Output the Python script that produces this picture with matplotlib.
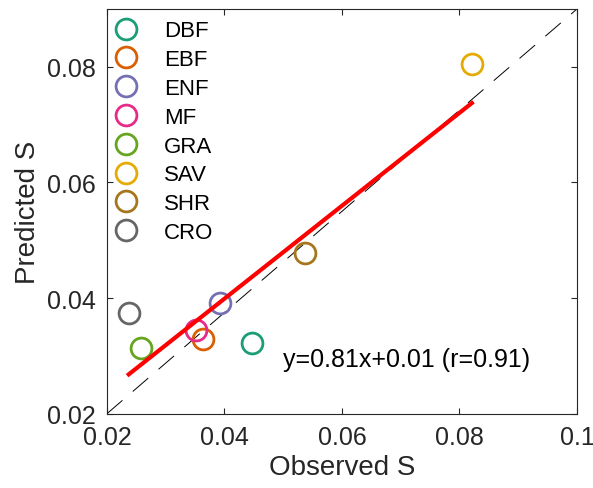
import numpy as np
import matplotlib
matplotlib.use("Agg")
import matplotlib.pyplot as plt

plt.rcParams["font.family"] = ["Liberation Sans", "DejaVu Sans"]

# 植被类型与观测/预测值
types = ["DBF", "EBF", "ENF", "MF", "GRA", "SAV", "SHR", "CRO"]
observed = [0.0446, 0.0364, 0.0392, 0.0351, 0.0258, 0.0821, 0.0537, 0.0237]
predicted = [0.0322, 0.0329, 0.0392, 0.0344, 0.0313, 0.0805, 0.0478, 0.0374]
colors = ["#1b9e77", "#d95f02", "#7570b3", "#e7298a",
          "#66a61e", "#e6ab02", "#a6761d", "#666666"]

# 参考虚线（坐标轴对角线）
ref_x = [0.02, 0.1]
ref_y = [0.02, 0.09]

fig = plt.figure(figsize=(5.93, 4.89), dpi=100)
ax = fig.add_axes([0.1804, 0.152, 0.7926, 0.8276])

ax.plot(ref_x, ref_y, color="black", lw=0.7, linestyle=(0, (21, 14)))

# 散点
for t, xo, yp, c in zip(types, observed, predicted, colors):
    ax.plot(xo, yp, "o", mfc="none", mec=c, ms=15, mew=2, label=t)

# 拟合线
k, b = np.polyfit(observed, predicted, 1)
xs = np.array([min(observed), max(observed)])
ax.plot(xs, k * xs + b, color="red", lw=3)

ax.text(0.0499, 0.0295, "y=0.81x+0.01 (r=0.91)", fontsize=18,
        va="center", ha="left", color="black")

ax.set_xlim(0.02, 0.1)
ax.set_ylim(0.02, 0.09)
ax.set_xticks([0.02, 0.04, 0.06, 0.08, 0.1])
ax.set_xticklabels(["0.02", "0.04", "0.06", "0.08", "0.1"])
ax.set_yticks([0.02, 0.04, 0.06, 0.08])
ax.set_yticklabels(["0.02", "0.04", "0.06", "0.08"])
ax.tick_params(direction="in", top=True, right=True, labelsize=18,
               colors="#262626", length=4, width=0.8, pad=8)
for s in ax.spines.values():
    s.set_color("#262626")
    s.set_linewidth(0.8)

ax.set_xlabel("Observed S", fontsize=20, color="#262626")
ax.set_ylabel("Predicted S", fontsize=20, color="#262626")

ax.legend(loc="upper left", bbox_to_anchor=(-0.016, 1.01), frameon=False,
          fontsize=16, labelspacing=0.35, handletextpad=1.2,
          handlelength=1.0, borderaxespad=0.3)

fig.savefig("out.png", dpi=100)
